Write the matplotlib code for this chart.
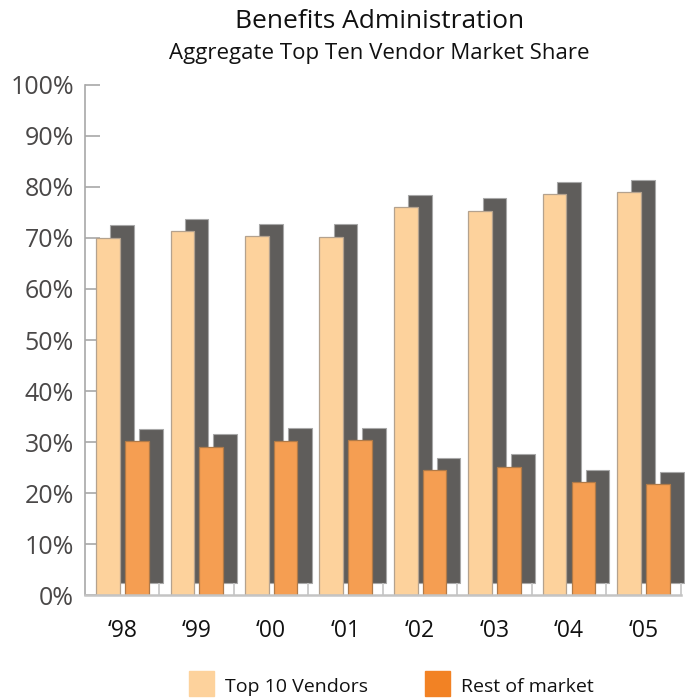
"""Benefits Administration: top ten vendor share vs rest of market, with drop shadows."""

import matplotlib
matplotlib.use("Agg")
import matplotlib.pyplot as plt
from matplotlib.patches import Rectangle
from matplotlib.ticker import FixedLocator

plt.rcParams["font.family"] = ["Open Sans", "DejaVu Sans"]

years = ["\u201898", "\u201899", "\u201800", "\u201801", "\u201802", "\u201803", "\u201804", "\u201805"]
top10 = [70.0, 71.3, 70.3, 70.2, 76.0, 75.3, 78.5, 78.9]
rest = [30.2, 29.1, 30.3, 30.4, 24.5, 25.2, 22.1, 21.7]

LIGHT = "#fdd29c"
DARK = "#f59e52"
SHADOW = "#5f5d5b"
SWATCH_REST = "#f28224"

fig = plt.figure(figsize=(6.89, 7.00), dpi=100)
ax = fig.add_axes([85 / 689, 104.7 / 700, 600 / 689, 510.6 / 700])

x = list(range(len(years)))
w = 0.318
dx, dy = 0.19, 2.45  # shadow offset (group units, percent)

x_top = [i - 0.35 + w / 2 for i in x]
x_rest = [i + 0.036 + w / 2 for i in x]

# sombras atrás
ax.bar([v + dx for v in x_top], top10, w, bottom=dy, color=SHADOW,
       edgecolor="#a8a8a8", linewidth=0.8, zorder=1)
ax.bar([v + dx for v in x_rest], rest, w, bottom=dy, color=SHADOW,
       edgecolor="#a8a8a8", linewidth=0.8, zorder=1)
# barras
ax.bar(x_top, top10, w, color=LIGHT, edgecolor="#b4a28e", linewidth=0.9, zorder=2)
ax.bar(x_rest, rest, w, color=DARK, edgecolor="#b07a48", linewidth=0.9, zorder=2)

ax.set_xlim(-0.5, 7.56)
ax.set_ylim(0, 100)
ax.set_yticks(range(0, 101, 10))
ax.set_yticklabels([f"{v}%" for v in range(0, 101, 10)])
ax.set_xticks(x)
ax.set_xticklabels(years)
ax.xaxis.set_minor_locator(FixedLocator([i + 0.5 for i in x]))

ax.tick_params(axis="y", direction="in", length=10.5, width=1.2, color="#a8a8a8",
               labelsize=18, labelcolor="#4a4848", pad=8)
ax.tick_params(axis="x", which="major", length=0, labelsize=16.5, labelcolor="#111111", pad=17)
ax.tick_params(axis="x", which="minor", direction="in", length=9, width=1.2, color="#c4c4c4")

for s in ("top", "right"):
    ax.spines[s].set_visible(False)
ax.spines["left"].set_color("#a8a8a8")
ax.spines["left"].set_linewidth(1.2)
ax.spines["bottom"].set_color("#c4c4c4")
ax.spines["bottom"].set_linewidth(1.8)
ax.spines["bottom"].set_bounds(-0.5, 7.5)

fig.text(380 / 689, 1 - 22 / 700, "Benefits Administration", ha="center", va="center",
         fontsize=19, color="#111111")
fig.text(379 / 689, 1 - 53 / 700, "Aggregate Top Ten Vendor Market Share", ha="center",
         va="center", fontsize=16, color="#111111")

# legenda manual
for x0, cor, rotulo in [(189, LIGHT, "Top 10 Vendors"), (425, SWATCH_REST, "Rest of market")]:
    fig.patches.append(Rectangle((x0 / 689, 1 - 695.7 / 700), 25 / 689, 24.7 / 700,
                                 transform=fig.transFigure, color=cor))
    fig.text((x0 + 36) / 689, 1 - 687 / 700, rotulo, ha="left", va="center",
             fontsize=14, color="#111111")

fig.savefig("out.png", dpi=100)
